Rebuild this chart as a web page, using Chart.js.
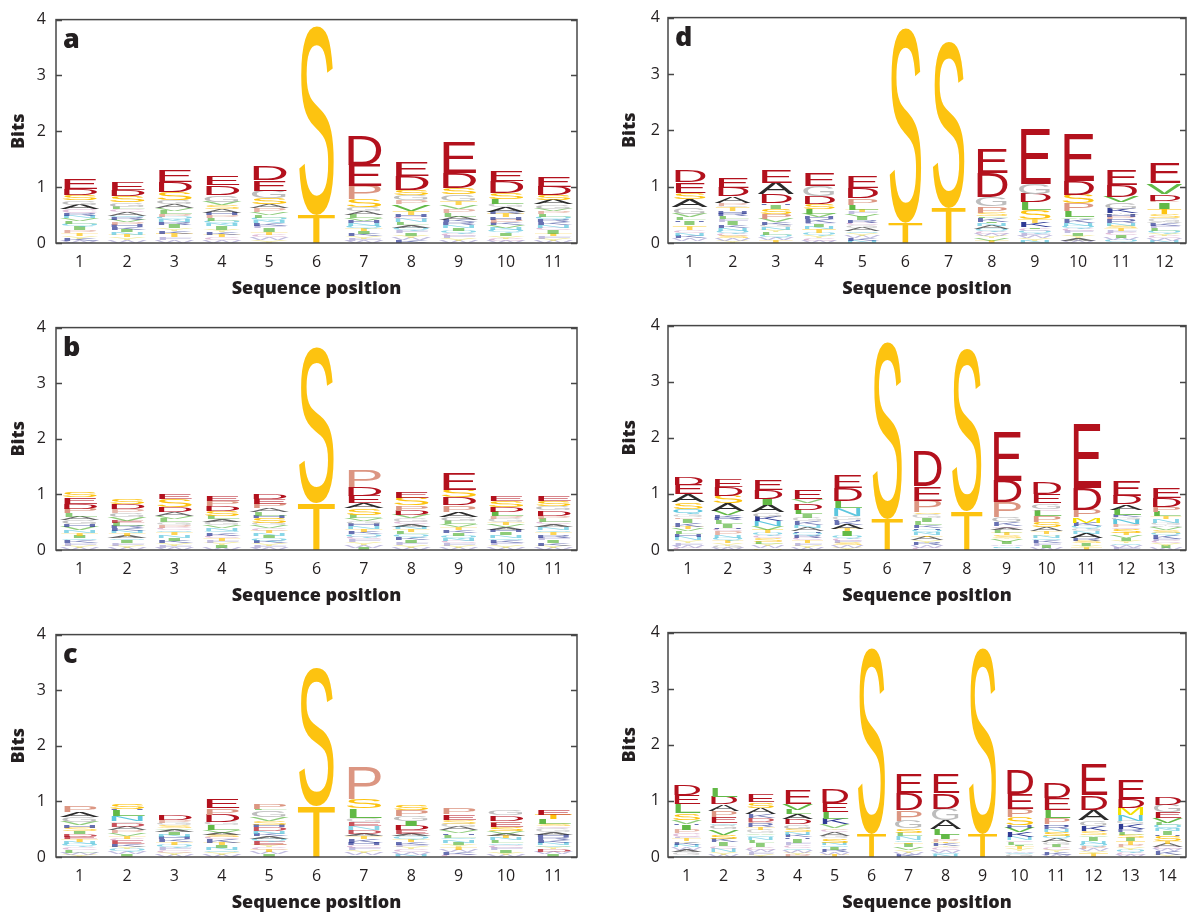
<!DOCTYPE html>
<html>
<head>
<meta charset="utf-8">
<script src="https://cdn.jsdelivr.net/npm/chart.js@4.4.0/dist/chart.umd.min.js"></script>
<style>
    body { margin: 0; background: #fff; width: 1188px; height: 914px; overflow: hidden; position: relative; }
    .panel { position: absolute; }
</style>
</head>
<body>
<div class="panel" style="left:0;top:0"><canvas id="logoA" width="590" height="305"></canvas></div>
<div class="panel" style="left:0;top:308px"><canvas id="logoB" width="590" height="305"></canvas></div>
<div class="panel" style="left:0;top:615px"><canvas id="logoC" width="590" height="299"></canvas></div>
<div class="panel" style="left:600px;top:0"><canvas id="logoD" width="588" height="305"></canvas></div>
<div class="panel" style="left:600px;top:308px"><canvas id="logoE" width="588" height="305"></canvas></div>
<div class="panel" style="left:600px;top:615px"><canvas id="logoF" width="588" height="299"></canvas></div>

<script>
// sequence positions (x tick labels)
const positions = ['1', '2', '3', '4', '5', '6', '7', '8', '9', '10', '11', '12', '13', '14'];

// each column: letters stacked bottom -> top, with their heights in bits
const aLetters = ['WKYTPIQLVNRCAGSDE', 'WYTNIKHPVRQACLGSDE', 'WFTKYIRNQPLVAGSDE', 'WCTKYINQLPHASVGDE',
    'YWCTIFKNQLVPASGED', 'TS', 'WFYKITQNHVLAGSPED', 'KWYIFQALNCHTVPGSDE', 'WYFCQINRKALPVTGSDE',
    'WCYIQNVKPHTRAGLSDE', 'WYFTICNKRQLPVGASDE'];
const aBits = [
    [.04, .04, .05, .05, .05, .06, .05, .05, .05, .05, .05, .06, .08, .08, .10, .11, .18],
    [.05, .05, .05, .04, .05, .04, .04, .05, .04, .04, .04, .06, .05, .05, .08, .11, .11, .14],
    [.05, .05, .06, .05, .05, .06, .05, .05, .05, .05, .06, .04, .07, .08, .14, .18, .20],
    [.05, .05, .05, .05, .04, .06, .05, .05, .05, .05, .04, .07, .07, .06, .12, .17, .16],
    [.05, .05, .05, .05, .06, .04, .05, .05, .05, .05, .05, .07, .07, .11, .13, .19, .26],
    [.50, 3.41],
    [.04, .04, .04, .04, .05, .04, .05, .05, .04, .05, .06, .07, .08, .13, .24, .38, .53],
    [.05, .04, .04, .05, .04, .05, .05, .05, .06, .04, .04, .06, .12, .07, .09, .10, .25, .26],
    [.04, .05, .04, .04, .05, .05, .05, .05, .04, .06, .07, .07, .07, .07, .12, .11, .28, .55],
    [.04, .04, .05, .05, .05, .04, .05, .04, .06, .04, .06, .04, .08, .06, .09, .11, .21, .19],
    [.04, .04, .04, .05, .06, .04, .05, .05, .05, .05, .05, .05, .04, .08, .08, .09, .15, .18]
];

const bLetters = ['WYFKQITNVHGALPDES', 'WYFIQATNKRLEVGPDS', 'WFYKINTQCPGLVADSE', 'WIYFTCKQNVGALSDPE',
    'WFYKQINTCVGSHLAPED', 'TS', 'IWYFCQKTNHGVLSAEDP', 'WYFIKQLTNACGVDPSE', 'WYFCNQIKTVLGAPDSE',
    'WYFKQNIHAVTGPLDSE', 'WYKIFRTQNACLPDGSE'];
const bBits = [
    [.04, .04, .04, .05, .04, .05, .05, .05, .06, .04, .08, .06, .06, .08, .09, .12, .10],
    [.04, .04, .04, .05, .04, .05, .05, .04, .04, .04, .06, .04, .06, .08, .06, .09, .10],
    [.04, .04, .05, .04, .05, .05, .05, .04, .04, .05, .05, .06, .05, .07, .10, .13, .09],
    [.04, .05, .04, .04, .05, .04, .05, .04, .05, .05, .06, .04, .06, .09, .09, .09, .10],
    [.04, .04, .04, .04, .05, .05, .04, .05, .04, .05, .05, .09, .04, .06, .07, .08, .09, .10],
    [.84, 2.81],
    [.04, .05, .05, .05, .04, .05, .05, .05, .05, .04, .05, .05, .06, .12, .10, .13, .15, .29],
    [.04, .05, .04, .05, .05, .05, .05, .05, .04, .05, .04, .06, .06, .08, .09, .13, .11],
    [.04, .04, .04, .04, .05, .05, .05, .05, .05, .05, .06, .08, .09, .12, .14, .13, .29],
    [.04, .05, .04, .05, .04, .05, .05, .04, .05, .04, .05, .06, .05, .08, .09, .11, .10],
    [.04, .04, .05, .05, .04, .05, .05, .04, .05, .05, .04, .06, .05, .10, .08, .10, .10]
];

const cLetters = ['YWLCQNTEDISHVGAP', 'IWQYKECTVPADGNLHS', 'WYCFQTKHNIAVSGPD', 'WYQNITKCSAVLGDPE',
    'IWTCYEQAKNDHSVGLP', 'TS', 'QWYFCHKTADNEGLSP', 'NWCYFKTQAEDIGPS', 'CKWTYINQLHVAGSEP',
    'WYIFCQLNTAVSEPDG', 'IWDYQNKRHAGCSLTE'];
const cBits = [
    [.04, .04, .05, .05, .05, .04, .05, .04, .05, .05, .07, .04, .06, .09, .09, .11],
    [.05, .04, .05, .04, .05, .06, .04, .05, .05, .05, .06, .07, .03, .09, .11, .03, .10],
    [.04, .04, .05, .04, .05, .05, .05, .04, .04, .05, .04, .03, .05, .04, .05, .08],
    [.04, .04, .04, .04, .05, .05, .06, .04, .04, .04, .05, .08, .06, .13, .12, .17],
    [.05, .04, .04, .05, .04, .06, .05, .04, .05, .05, .07, .04, .07, .07, .12, .03, .10],
    [.91, 2.50],
    [.04, .04, .05, .04, .05, .04, .06, .05, .05, .07, .07, .07, .07, .17, .17, .57],
    [.04, .05, .05, .04, .04, .05, .04, .06, .05, .06, .08, .09, .09, .11, .10],
    [.04, .05, .04, .05, .04, .04, .05, .04, .05, .03, .05, .06, .06, .07, .10, .11],
    [.04, .04, .05, .04, .04, .04, .05, .04, .04, .04, .04, .08, .08, .03, .10, .10],
    [.05, .04, .05, .04, .04, .04, .05, .05, .04, .05, .07, .03, .05, .08, .08, .09]
];

const dLetters = ['QWKNCTYIHLVGASED', 'YWSCQNKIFLRHTGPADE', 'TWQLYNGKVPSIHDAE', 'WCYQTNIFKHVLSDGE',
    'NKWYQAGCRIVFTLPDE', 'TS', 'TS', 'TVYWCQANIKLSPGDE', 'NYWFQCIKTSLDGE', 'WAYIFCQNKVLPSDE',
    'QWICFTSNRPHAKGVDE', 'NWCYQLFKAGSTIPDVE'];
const dBits = [
    [.04, .04, .05, .05, .05, .06, .03, .06, .03, .05, .06, .12, .14, .11, .19, .20],
    [.04, .04, .04, .05, .05, .05, .05, .06, .04, .05, .05, .04, .07, .03, .05, .12, .15, .17],
    [.05, .04, .05, .05, .04, .05, .04, .05, .06, .08, .10, .07, .03, .15, .20, .23],
    [.04, .05, .04, .05, .06, .05, .04, .03, .06, .04, .06, .08, .10, .13, .19, .22],
    [.04, .05, .04, .04, .04, .06, .05, .04, .05, .06, .04, .04, .04, .08, .12, .18, .20],
    [.36, 3.48],
    [.62, 2.98],
    [.04, .04, .04, .04, .04, .05, .06, .04, .03, .07, .03, .06, .12, .15, .44, .44],
    [.04, .04, .04, .04, .05, .04, .03, .08, .07, .15, .14, .15, .18, .98],
    [.04, .05, .04, .05, .04, .04, .05, .05, .07, .03, .11, .13, .15, .25, .85],
    [.05, .04, .05, .04, .04, .05, .04, .05, .06, .04, .04, .03, .08, .11, .10, .21, .26],
    [.04, .04, .04, .04, .05, .05, .04, .05, .03, .07, .07, .09, .11, .03, .12, .19, .37]
];

const eLetters = ['CWFYNHLVTKIPGQSAED', 'WGYTQNPCHILRKVASDE', 'MWYLSCQTVNKGAIDE', 'WYFTCRQHANKGILDVE',
    'YWSFCQITAKHGNLDE', 'TS', 'CWRYATNQHKLIGSPED', 'TS', 'QNWIVYSTLACKGPDE', 'WIFKQNYTASPLCGED',
    'TYISRANGQKMPDE', 'FWQYIVTSCPNGKLADE', 'WIYCFKQSVAGNTLPDE'];
const eBits = [
    [.04, .04, .05, .05, .06, .04, .05, .04, .04, .07, .07, .03, .05, .10, .12, .14, .17, .14],
    [.04, .04, .05, .04, .05, .05, .06, .04, .03, .07, .06, .04, .05, .08, .14, .13, .15, .14],
    [.03, .04, .04, .04, .06, .04, .05, .06, .06, .09, .08, .08, .14, .10, .16, .18],
    [.04, .04, .04, .05, .04, .05, .05, .03, .06, .05, .06, .06, .07, .08, .12, .07, .15],
    [.04, .04, .04, .04, .04, .05, .08, .04, .08, .06, .03, .07, .13, .14, .23, .22],
    [.54, 3.18],
    [.04, .04, .05, .04, .06, .03, .05, .05, .03, .05, .06, .07, .07, .03, .21, .26, .61],
    [.69, 2.92],
    [.04, .03, .03, .05, .04, .03, .05, .04, .05, .04, .03, .06, .09, .27, .38, .86],
    [.04, .04, .04, .05, .04, .04, .03, .05, .07, .10, .10, .10, .03, .10, .16, .21],
    [.04, .04, .04, .04, .05, .08, .04, .05, .05, .06, .09, .14, .39, 1.14],
    [.04, .04, .04, .04, .05, .05, .04, .08, .03, .05, .08, .04, .04, .10, .10, .15, .27],
    [.04, .04, .04, .04, .04, .06, .05, .05, .05, .03, .04, .07, .05, .08, .08, .16, .18]
];

const fLetters = ['QGAWNKYTFCPIHVSLED', 'WYNCIKSVGQEPADL', 'YFWCILNQVGTRPDKASE', 'PYWQCFIHKNSGDALVE',
    'TWRIQNSGACYVKLED', 'TS', 'KWYVITQNLSGPDE', 'NQWCYKTPILAGDE', 'TS', 'GQWYTILCNKVHSPED',
    'WKYCIGAQSNRHPLED', 'TYWPQNIVSKGADE', 'WCQYPTISLRKGNMDE', 'YKWCATSHINQLVEGD'];
const fBits = [
    [.04, .04, .05, .04, .04, .04, .03, .05, .03, .06, .07, .08, .02, .07, .12, .17, .16, .19],
    [.04, .05, .06, .04, .07, .06, .08, .09, .08, .04, .11, .10, .12, .13, .16],
    [.04, .05, .04, .05, .07, .05, .05, .04, .03, .07, .05, .07, .02, .07, .06, .12, .10, .14],
    [.04, .04, .04, .04, .05, .04, .07, .03, .05, .04, .06, .08, .09, .09, .08, .10, .26],
    [.04, .04, .05, .04, .04, .04, .08, .04, .07, .04, .03, .07, .10, .13, .16, .25],
    [.41, 3.34],
    [.04, .04, .04, .05, .06, .03, .04, .07, .06, .08, .14, .19, .30, .34],
    [.04, .04, .04, .05, .03, .05, .02, .05, .08, .10, .16, .20, .28, .34],
    [.41, 3.34],
    [.04, .04, .03, .04, .04, .03, .05, .03, .06, .08, .08, .04, .15, .14, .28, .42],
    [.04, .05, .04, .04, .04, .05, .06, .05, .08, .04, .06, .03, .11, .15, .21, .28],
    [.06, .04, .04, .05, .05, .05, .07, .03, .07, .09, .10, .19, .26, .54],
    [.04, .04, .05, .04, .05, .06, .06, .06, .05, .05, .08, .07, .10, .13, .15, .33],
    [.04, .06, .04, .04, .06, .04, .09, .03, .06, .04, .07, .04, .08, .11, .13, .14]
];

const letterColors = {
    E: '#b3111d', D: '#b3111d', P: '#dc9682', S: '#fdc310', T: '#fdc310',
    G: '#bdbdbd', A: '#2b2b2b', V: '#62b946', L: '#62b946', I: '#62b946',
    K: '#2e3a94', R: '#2e3a94', H: '#2e3a94', N: '#5cc6de', Q: '#5cc6de',
    M: '#f3e100', F: '#aaa4d4', W: '#aaa4d4', Y: '#ece070', C: '#d6a2c8'
};

const textColor = '#231f20';
const glyphFont = '200px "Liberation Sans"';
const metricCache = {};

function glyphMetrics(ctx, ch) {
    if (!metricCache[ch]) {
        ctx.save();
        ctx.font = glyphFont;
        const m = ctx.measureText(ch);
        ctx.restore();
        metricCache[ch] = {
            adv: m.width,
            left: m.actualBoundingBoxLeft,
            right: m.actualBoundingBoxRight,
            asc: m.actualBoundingBoxAscent,
            desc: m.actualBoundingBoxDescent
        };
    }
    return metricCache[ch];
}

// stretch one letter into its slot of the stack
function drawGlyph(ctx, ch, cx, top, w, h) {
    const m = glyphMetrics(ctx, ch);
    const sy = h / (m.asc + m.desc);
    ctx.save();
    ctx.font = glyphFont;
    ctx.textAlign = 'left';
    ctx.textBaseline = 'alphabetic';
    ctx.fillStyle = letterColors[ch] || '#888';
    // very squashed letters come out faint in the original
    if (h < 4) ctx.globalAlpha = 0.72;
    if (ch === 'I') {
        const wi = w * 0.3;
        ctx.translate(cx - wi / 2, top);
        ctx.scale(wi / (m.left + m.right), sy);
        ctx.fillText(ch, m.left, m.asc);
    } else {
        ctx.translate(cx - w / 2, top);
        ctx.scale(w / m.adv, sy);
        ctx.fillText(ch, 0, m.asc);
    }
    ctx.restore();
}

const logoPlugin = {
    id: 'logo',
    afterDatasetsDraw(chart) {
        const ctx = chart.ctx;
        chart.data.datasets.forEach((ds, d) => {
            const meta = chart.getDatasetMeta(d);
            meta.data.forEach((bar, i) => {
                const ch = ds.letters[i];
                const h = bar.base - bar.y;
                if (!ch || h <= 0) return;
                drawGlyph(ctx, ch, bar.x, bar.y, bar.width, h);
            });
        });
    },
    afterDraw(chart, args, opts) {
        const { ctx, chartArea: a, scales: { y } } = chart;
        ctx.save();
        ctx.strokeStyle = '#474747';
        ctx.lineWidth = 1.5;
        ctx.strokeRect(a.left, a.top, a.right - a.left, a.bottom - a.top);
        // inward ticks on both sides
        y.ticks.forEach(t => {
            const py = Math.round(y.getPixelForValue(t.value)) + 0.5;
            ctx.beginPath();
            ctx.moveTo(a.left, py); ctx.lineTo(a.left + 6, py);
            ctx.moveTo(a.right - 6, py); ctx.lineTo(a.right, py);
            ctx.stroke();
        });
        if (opts.tag) {
            ctx.font = '800 27px "Open Sans"';
            ctx.fillStyle = textColor;
            ctx.textAlign = 'left';
            ctx.textBaseline = 'alphabetic';
            ctx.fillText(opts.tag, a.left + 7, a.top + 28);
        }
        ctx.restore();
    }
};

function makeLogo(id, letters, bits, tag, geo) {
    const n = letters.length;
    const depth = Math.max(...letters.map(s => s.length));
    const datasets = [];
    for (let k = 0; k < depth; k++) {
        datasets.push({
            data: bits.map(col => col[k] || 0),
            letters: letters.map(s => s[k] || ''),
            backgroundColor: 'rgba(0,0,0,0)',
            borderWidth: 0,
            categoryPercentage: 0.84,
            barPercentage: 1
        });
    }
    new Chart(document.getElementById(id), {
        type: 'bar',
        data: { labels: positions.slice(0, n), datasets },
        options: {
            responsive: false,
            animation: false,
            events: [],
            devicePixelRatio: 1,
            layout: { padding: { top: 15, right: geo.right, bottom: geo.bottom, left: 0 } },
            plugins: {
                legend: { display: false },
                tooltip: { enabled: false },
                logo: { tag }
            },
            scales: {
                x: {
                    stacked: true,
                    grid: { display: false, drawTicks: false },
                    border: { display: false },
                    ticks: {
                        autoSkip: false, maxRotation: 0, padding: 10, color: textColor,
                        font: { family: 'Open Sans', size: 16 }
                    },
                    title: {
                        display: true, text: 'Sequence position', color: textColor, padding: 0,
                        font: { family: 'Open Sans', size: 18, weight: '800' }
                    },
                    afterFit: s => { s.height = 57; }
                },
                y: {
                    stacked: true,
                    min: 0,
                    max: 4,
                    grid: { display: false, drawTicks: false },
                    border: { display: false },
                    ticks: {
                        stepSize: 1, padding: geo.tickPad, color: textColor,
                        font: { family: 'Open Sans', size: 16 }
                    },
                    title: {
                        display: true, text: 'Bits', color: textColor,
                        padding: { top: geo.titlePad, bottom: 0 },
                        font: { family: 'Open Sans', size: 18, weight: '800' }
                    },
                    afterFit: s => { s.width = geo.axisWidth; }
                }
            }
        },
        plugins: [logoPlugin]
    });
}

const leftGeo = { axisWidth: 56, right: 13, tickPad: 10, titlePad: 8 };
const rightGeo = { axisWidth: 68, right: 2, tickPad: 8, titlePad: 19 };

function build() {
    makeLogo('logoA', aLetters, aBits, 'a', { ...leftGeo, bottom: 5 });
    makeLogo('logoB', bLetters, bBits, 'b', { ...leftGeo, bottom: 6 });
    makeLogo('logoC', cLetters, cBits, 'c', { ...leftGeo, bottom: 0 });
    makeLogo('logoD', dLetters, dBits, 'd', { ...rightGeo, bottom: 5 });
    makeLogo('logoE', eLetters, eBits, '', { ...rightGeo, bottom: 6 });
    makeLogo('logoF', fLetters, fBits, '', { ...rightGeo, bottom: 0 });
}

Promise.all([
    document.fonts.load('16px "Open Sans"'),
    document.fonts.load('800 18px "Open Sans"'),
    document.fonts.load(glyphFont)
]).then(build, build);
</script>
</body>
</html>
